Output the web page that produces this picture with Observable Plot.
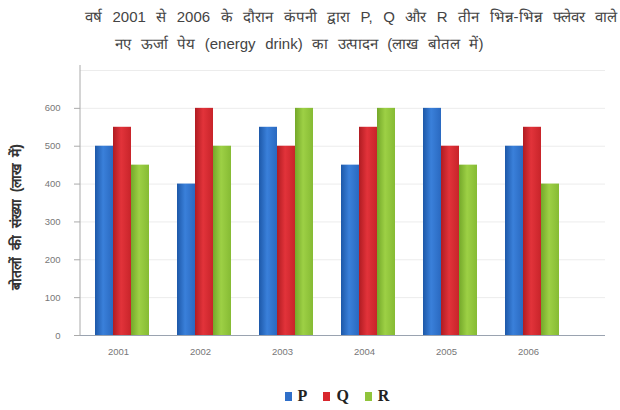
<!DOCTYPE html>
<html>
<head>
<meta charset="utf-8">
<script src="https://cdn.jsdelivr.net/npm/d3@7"></script>
<script src="https://cdn.jsdelivr.net/npm/@observablehq/plot@0.6"></script>
<style>
  body { margin: 0; background: #fff; width: 620px; height: 410px; overflow: hidden; font-family: "Liberation Sans", Arial, sans-serif; }
  #title { position: relative; height: 62px; color: #444; font-size: 15px; }
  #title .l1 { position: absolute; left: 85px; top: 6px; white-space: nowrap; word-spacing: 6.3px; }
  #title .l2 { position: absolute; left: 115px; top: 33px; white-space: nowrap; word-spacing: 5.4px; }
  #chart { position: relative; height: 300px; }
  #legend { display: flex; justify-content: center; align-items: center; gap: 16px; margin-top: 25px; padding-left: 54px; font-family: "Liberation Serif", "Times New Roman", serif; font-weight: bold; font-size: 16px; color: #222; }
  #legend span.sw { display: inline-block; width: 7px; height: 9px; margin-right: 6px; }
</style>
</head>
<body>
<div id="title">
  <div class="l1">वर्ष 2001 से 2006 के दौरान कंपनी द्वारा P, Q और R तीन भिन्न-भिन्न फ्लेवर वाले</div>
  <div class="l2">नए ऊर्जा पेय (energy drink) का उत्पादन (लाख बोतल में)</div>
</div>
<div id="chart"></div>
<div id="legend"></div>
<script>
const years = ["2001", "2002", "2003", "2004", "2005", "2006"];
const seriesNames = ["P", "Q", "R"];
const valuesP = [500, 400, 550, 450, 600, 500];
const valuesQ = [550, 600, 500, 550, 500, 550];
const valuesR = [450, 500, 600, 600, 450, 400];
const yTicks = [0, 100, 200, 300, 400, 500, 600];
const colors = ["#2f6fc9", "#d8272d", "#90c43b"];
const gradStops = [
  ["#1d58a8", "#3a80da", "#2a69c0"],
  ["#b01c22", "#e2333a", "#c8242a"],
  ["#74a82a", "#9dd045", "#86bb34"]
];
const yLabel = "बोतलों की संख्या (लाख में)";

const seriesValues = [valuesP, valuesQ, valuesR];
const data = [];
seriesNames.forEach((s, i) => years.forEach((y, j) => data.push({year: y, series: s, value: seriesValues[i][j]})));

const insets = [[0, 36], [18, 18], [36, 0]];

const plot = Plot.plot({
  width: 620,
  height: 300,
  marginLeft: 80,
  marginRight: 15,
  marginTop: 8,
  marginBottom: 27,
  style: {fontFamily: "Liberation Sans, Arial, sans-serif", fontSize: "9.5px", color: "#777", background: "transparent"},
  x: {domain: years, range: [64.3, 589], padding: 0.347, label: null},
  y: {domain: [0, 700], ticks: yTicks, label: null},
  marks: [
    Plot.ruleY([100, 200, 300, 400, 500, 600, 700], {stroke: "#ececec"}),
    ...seriesNames.map((s, i) => Plot.barY(data.filter(d => d.series === s), {
      x: "year", y: "value", fill: `url(#grad${s})`,
      insetLeft: insets[i][0], insetRight: insets[i][1]
    })),
    Plot.ruleY([0], {stroke: "#9aa3b0"}),
    Plot.axisY({ticks: yTicks, tickSize: 6, tickPadding: 14, stroke: "#aaa", fill: "#777", label: null}),
    Plot.axisX({tickSize: 0, tickPadding: 13, dx: -4, fill: "#777", label: null})
  ]
});
const svg = d3.select(plot);
const defs = svg.insert("defs", ":first-child");
seriesNames.forEach((s, i) => {
  const g = defs.append("linearGradient").attr("id", `grad${s}`).attr("x1", 0).attr("x2", 1).attr("y1", 0).attr("y2", 0);
  g.append("stop").attr("offset", "0%").attr("stop-color", gradStops[i][0]);
  g.append("stop").attr("offset", "45%").attr("stop-color", gradStops[i][1]);
  g.append("stop").attr("offset", "100%").attr("stop-color", gradStops[i][2]);
});
svg.append("line").attr("x1", 80).attr("x2", 80).attr("y1", 3).attr("y2", 273).attr("stroke", "#aaa");
document.getElementById("chart").appendChild(plot);

const yl = document.createElement("div");
yl.style.cssText = "position:absolute;left:6px;top:228px;transform:rotate(-90deg);transform-origin:0 0;white-space:nowrap;font-weight:bold;font-size:14px;word-spacing:3px;color:#333;";
yl.textContent = yLabel;
document.getElementById("chart").appendChild(yl);

const leg = document.getElementById("legend");
seriesNames.forEach((s, i) => {
  const item = document.createElement("span");
  item.innerHTML = `<span class="sw" style="background:${colors[i]}"></span>${s}`;
  leg.appendChild(item);
});
</script>
</body>
</html>
